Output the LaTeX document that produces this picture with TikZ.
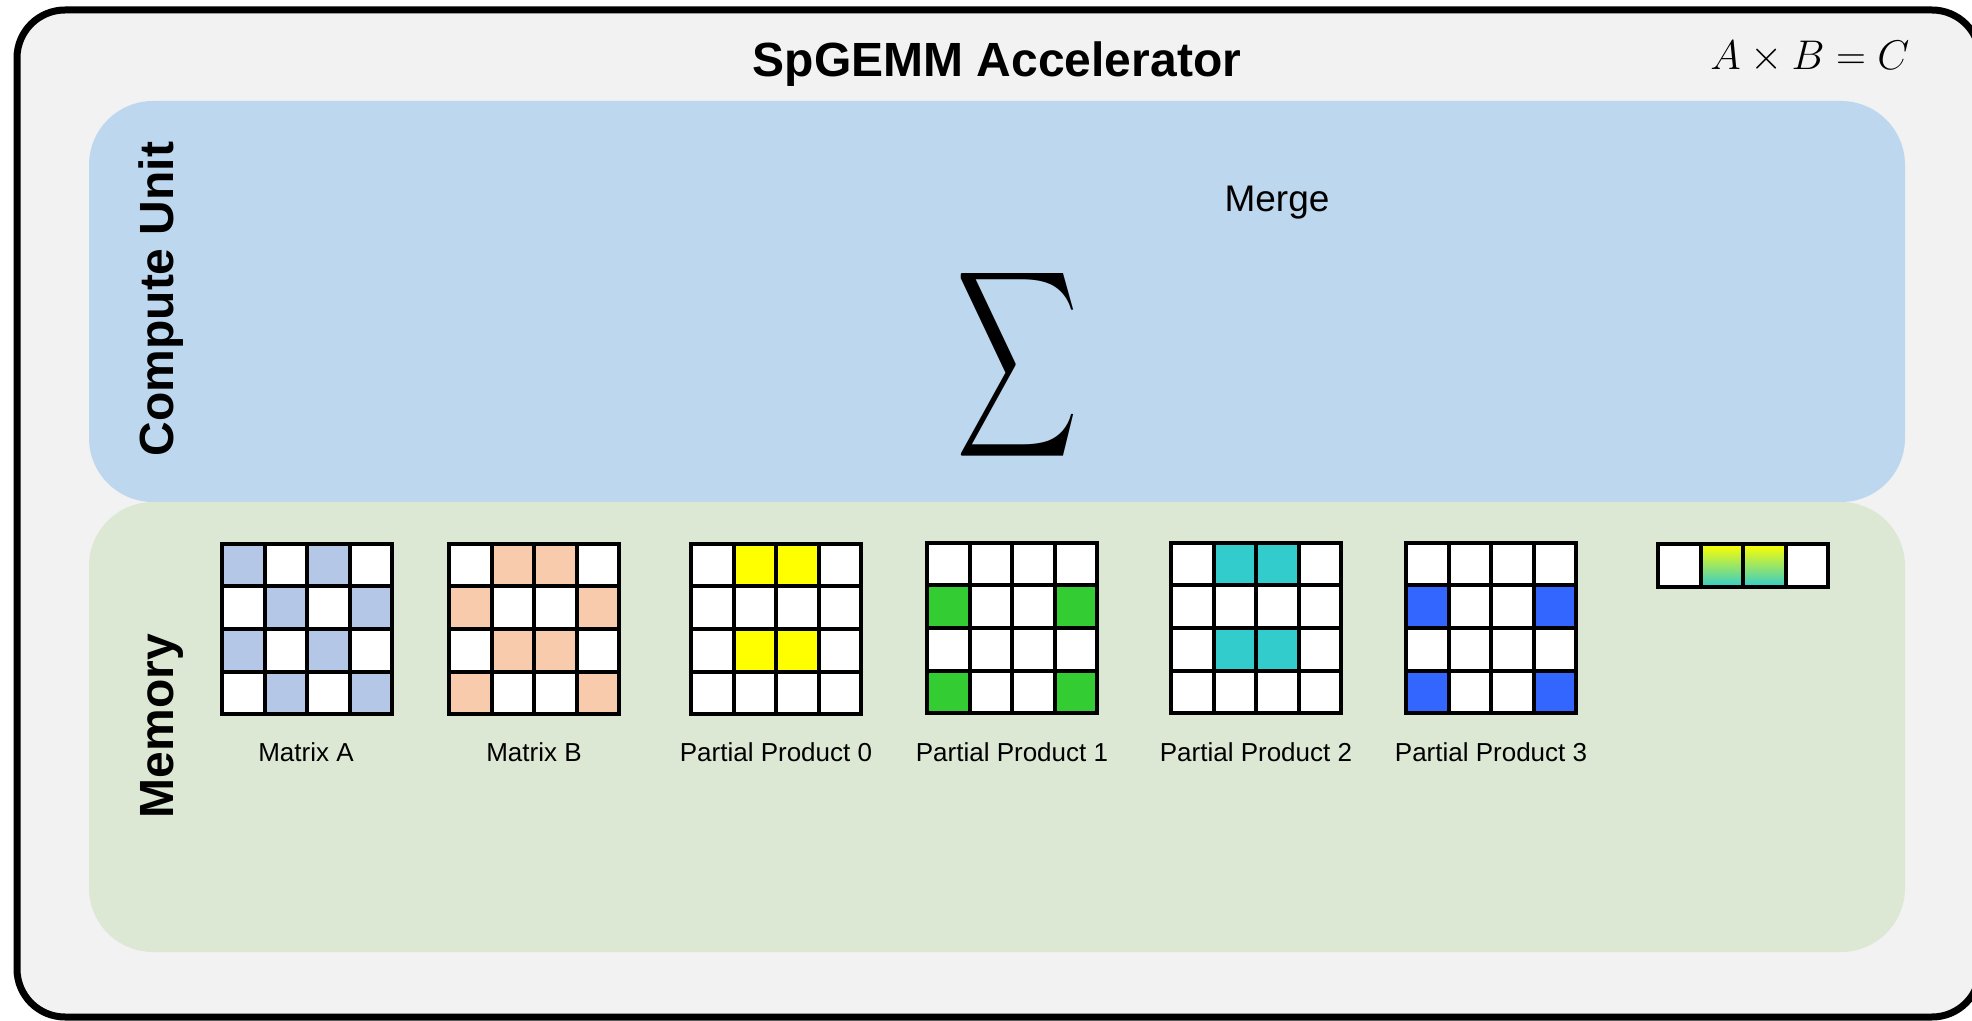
\documentclass[tikz,border=0pt]{standalone}
\usepackage{fontspec}
\setmainfont{Liberation Sans}
\usepackage{amsmath}
\usepackage{graphicx}
\usepackage{tikz}
\usetikzlibrary{positioning}
\definecolor{framegray}{HTML}{F2F2F2}
\definecolor{unitblue}{HTML}{BDD7EE}
\definecolor{memgreen}{HTML}{DCE7D4}
\definecolor{matA}{HTML}{B4C7E7}
\definecolor{matB}{HTML}{F8CBAD}
\definecolor{ppyellow}{HTML}{FFFF00}
\definecolor{ppgreen}{HTML}{33CC33}
\definecolor{ppcyan}{HTML}{33CCCC}
\definecolor{ppblue}{HTML}{3366FF}
% 4x4 sparse matrix: name, left, top, colour, rows
\newcommand{\spmat}[5]{%
  \foreach \row [count=\r] in {#5}{
    \foreach \v [count=\c] in \row{
      \ifnum\v=1 \def\cellfill{#4}\else\def\cellfill{white}\fi
      \node[cell,fill=\cellfill] (#1-\r-\c) at ({#2+21.25+(\c-1)*42.5},{#3+21.25+(\r-1)*42.5}) {};
    }
  }
}

\begin{document}
\begin{tikzpicture}[
  x=0.5pt,y=-0.5pt,
  frame/.style={draw=black,fill=framegray,line width=3.5pt,rounded corners=24pt,
    minimum width=981.5pt,minimum height=503.5pt,inner sep=0pt},
  region/.style={rounded corners=32pt,minimum width=908pt,inner sep=0pt},
  cell/.style={draw=black,line width=2pt,minimum size=21.25pt,inner sep=0pt,outer sep=0pt},
  blank/.style={fill=white},
  merged/.style={top color=ppyellow,bottom color=ppcyan},
  side/.style={font=\fontsize{24}{28}\selectfont\bfseries,rotate=90,anchor=base},
  lbl/.style={font=\fontsize{13}{15}\selectfont,anchor=base}
]
\useasboundingbox (0,0) rectangle (1972,1021);
\node[frame] (acc) at (998.5,513.5) {};
\node[region,fill=unitblue,minimum height=200.5pt] (cu) at (997,301.5) {};
\node[region,fill=memgreen,minimum height=225pt] (mem) at (997,727) {};

\node[anchor=base,font=\fontsize{24}{28}\selectfont\bfseries] (title) at (997,77) {SpGEMM Accelerator};
\node[font=\fontsize{22.5}{26}\selectfont] (eq) at (1810,57) {$A\times B=C$};
\node[side] (culbl) at (173,299) {Compute Unit};
\node[side] (memlbl) at (173,726) {Memory};

\node[anchor=base,font=\fontsize{18.5}{22}\selectfont] (merge) at (1277,212) {Merge};
\node[inner sep=0pt] (sigma) at (1018,365) {\resizebox{61pt}{68.5pt}{$\displaystyle\sum$}};

% operands and partial products
\spmat{A}{222}{544}{matA}{{1,0,1,0},{0,1,0,1},{1,0,1,0},{0,1,0,1}}
\spmat{B}{449}{544}{matB}{{0,1,1,0},{1,0,0,1},{0,1,1,0},{1,0,0,1}}
\spmat{P0}{691}{544}{ppyellow}{{0,1,1,0},{0,0,0,0},{0,1,1,0},{0,0,0,0}}
\spmat{P1}{927}{543}{ppgreen}{{0,0,0,0},{1,0,0,1},{0,0,0,0},{1,0,0,1}}
\spmat{P2}{1171}{543}{ppcyan}{{0,1,1,0},{0,0,0,0},{0,1,1,0},{0,0,0,0}}
\spmat{P3}{1406}{543}{ppblue}{{0,0,0,0},{1,0,0,1},{0,0,0,0},{1,0,0,1}}

% merged row
\foreach \c/\s in {1/blank,2/merged,3/merged,4/blank}
  \node[cell,\s] (R-1-\c) at ({1658+21.25+(\c-1)*42.5},565.5) {};

\node[lbl] (labA) at (306,761) {Matrix A};
\node[lbl] (labB) at (534,761) {Matrix B};
\node[lbl] (labP0) at (776,761) {Partial Product 0};
\node[lbl] (labP1) at (1012,761) {Partial Product 1};
\node[lbl] (labP2) at (1256,761) {Partial Product 2};
\node[lbl] (labP3) at (1491,761) {Partial Product 3};
\end{tikzpicture}
\end{document}
